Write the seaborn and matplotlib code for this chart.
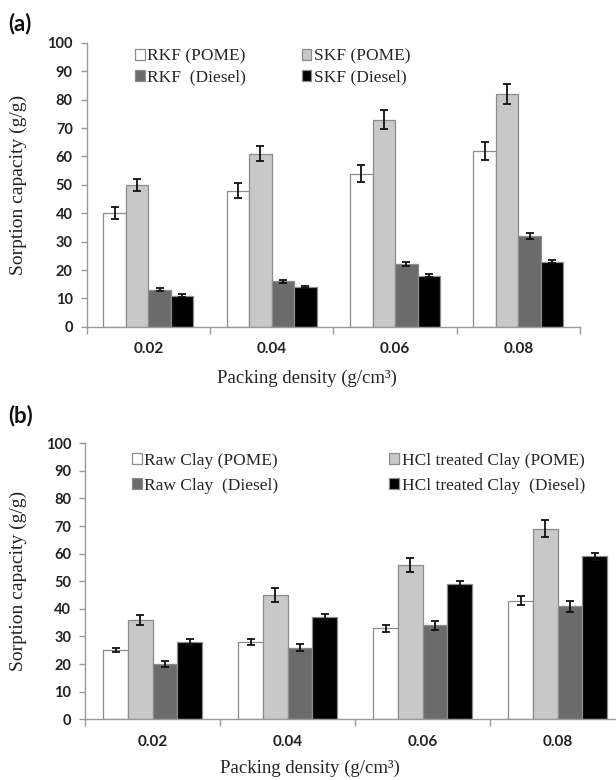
import numpy as np
import pandas as pd
import matplotlib
matplotlib.use("Agg")
import matplotlib.pyplot as plt
import seaborn as sns

# Packing densities (g/cm3)
densities = ["0.02", "0.04", "0.06", "0.08"]

# Panel (a): kapok fibres
a_series = ["RKF (POME)", "SKF (POME)", "RKF  (Diesel)", "SKF (Diesel)"]
rkf_pome = [40, 48, 54, 62]
skf_pome = [50, 61, 73, 82]
rkf_diesel = [13, 16, 22, 32]
skf_diesel = [11, 14, 18, 23]
rkf_pome_err = [2.2, 2.6, 2.9, 3.2]
skf_pome_err = [2.2, 2.7, 3.2, 3.6]
rkf_diesel_err = [0.5, 0.6, 0.7, 1.0]
skf_diesel_err = [0.4, 0.4, 0.5, 0.6]

# Panel (b): clay sorbents
b_series = ["Raw Clay (POME)", "HCl treated Clay (POME)",
            "Raw Clay  (Diesel)", "HCl treated Clay  (Diesel)"]
raw_pome = [25, 28, 33, 43]
hcl_pome = [36, 45, 56, 69]
raw_diesel = [20, 26, 34, 41]
hcl_diesel = [28, 37, 49, 59]
raw_pome_err = [0.8, 1.0, 1.2, 1.5]
hcl_pome_err = [1.8, 2.4, 2.6, 3.1]
raw_diesel_err = [1.0, 1.3, 1.7, 2.0]
hcl_diesel_err = [1.0, 1.0, 1.2, 1.2]

palette = ["#ffffff", "#c8c8c8", "#6b6b6b", "#000000"]

sns.set_theme(style="white")
plt.rcParams["font.family"] = ["Liberation Serif", "DejaVu Serif"]

fig = plt.figure(figsize=(6.16, 7.8), dpi=100)
ax_a = fig.add_axes([0.1407, 0.581, 0.801, 0.364])
ax_b = fig.add_axes([0.138, 0.0778, 0.877, 0.354])


def long_table(series, values, errors):
    rows = []
    for name, vals, errs in zip(series, values, errors):
        for d, v, e in zip(densities, vals, errs):
            rows.append({"density": d, "series": name, "value": v, "err": e})
    return pd.DataFrame(rows)


def draw_panel(ax, series, values, errors, tag, tag_y, legend_pos, leg_kw,
               xlabel_pos, ylabel_x):
    df = long_table(series, values, errors)
    sns.barplot(data=df, x="density", y="value", hue="series",
                order=densities, hue_order=series, palette=palette,
                width=0.73, gap=0, errorbar=None, ax=ax,
                edgecolor="#8c8c8c", linewidth=0.9, saturation=1)
    # error bars at the centres of the drawn bars
    for cont, errs in zip(ax.containers, errors):
        xs = [p.get_x() + p.get_width() / 2 for p in cont.patches]
        ys = [p.get_height() for p in cont.patches]
        ax.errorbar(xs, ys, yerr=errs, fmt="none", ecolor="#111111",
                    elinewidth=1.3, capsize=3, capthick=1.3, zorder=5)

    ax.set_ylim(0, 100)
    ax.set_xlim(-0.5, 3.5)
    ax.set_yticks(np.arange(0, 101, 10))
    ax.set_xticks(range(4))
    ax.set_xticks(np.arange(-0.5, 4.0, 1.0), minor=True)
    ax.tick_params(axis="x", which="major", length=0, pad=11)
    ax.tick_params(axis="x", which="minor", length=5, width=1,
                   color="#9a9a9a", direction="out", bottom=True)
    ax.tick_params(axis="y", length=4, width=1, color="#9a9a9a",
                   direction="out", pad=6, left=True)
    for lab in ax.get_xticklabels():
        lab.set_fontfamily(["Lato", "DejaVu Sans"])
        lab.set_fontweight("bold")
        lab.set_fontsize(11)
        lab.set_color("#222222")
    for lab in ax.get_yticklabels():
        lab.set_fontfamily(["Lato", "DejaVu Sans"])
        lab.set_fontweight("bold")
        lab.set_fontsize(10.5)
        lab.set_color("#222222")

    for side in ("top", "right"):
        ax.spines[side].set_visible(False)
    for side in ("left", "bottom"):
        ax.spines[side].set_color("#9a9a9a")
        ax.spines[side].set_linewidth(1)

    ax.set_xlabel("Packing density (g/cm³)", fontsize=13.5, color="#222222")
    ax.xaxis.set_label_coords(*xlabel_pos)
    ax.xaxis.label.set_va("center")
    ax.set_ylabel("Sorption capacity (g/g)", fontsize=14, color="#222222")
    ax.yaxis.set_label_coords(ylabel_x, 0.5)
    ax.yaxis.label.set_va("center")

    handles, labels = ax.get_legend_handles_labels()
    ax.get_legend().remove()
    order = [0, 2, 1, 3]
    ax.legend([handles[i] for i in order], [labels[i] for i in order],
              ncol=2, loc="upper left", bbox_to_anchor=legend_pos,
              frameon=False, borderpad=0, borderaxespad=0,
              handlelength=0.55, handleheight=0.55, handletextpad=0.15,
              prop={"family": "Liberation Serif", "size": 12.5},
              **leg_kw)

    # panel tag in the figure's top-left corner of the panel
    fig.text(8 / 616, tag_y, tag, fontsize=16, fontweight="bold",
             family=["Lato", "DejaVu Sans"], color="#111111",
             ha="left", va="center")


draw_panel(ax_a, a_series,
           [rkf_pome, skf_pome, rkf_diesel, skf_diesel],
           [rkf_pome_err, skf_pome_err, rkf_diesel_err, skf_diesel_err],
           "(a)", 1 - 24 / 780, (0.098, 0.979),
           {"labelspacing": 0.27, "columnspacing": 3.2},
           (0.447, -0.181), -0.139)

draw_panel(ax_b, b_series,
           [raw_pome, hcl_pome, raw_diesel, hcl_diesel],
           [raw_pome_err, hcl_pome_err, raw_diesel_err, hcl_diesel_err],
           "(b)", 1 - 416 / 780, (0.087, 0.965),
           {"labelspacing": 0.5, "columnspacing": 6.4},
           (0.417, -0.176), -0.124)

fig.savefig("out.png", dpi=100)
